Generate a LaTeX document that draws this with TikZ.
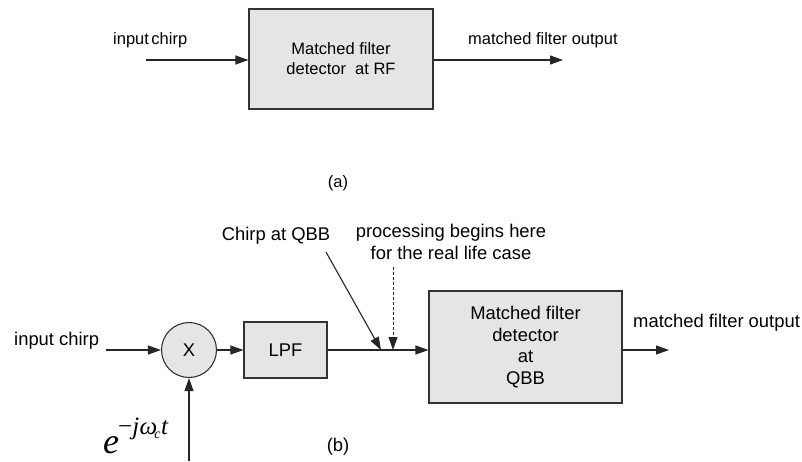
\documentclass[tikz,border=0pt]{standalone}
\usepackage{fontspec}
\setmainfont{Liberation Sans}
\newfontfamily\mathserif{Liberation Serif}
\usetikzlibrary{arrows.meta}
\begin{document}
\begin{tikzpicture}[x=1pt,y=-1pt,
  blk/.style={draw=black!80, fill=gray!20, line width=1.1pt, inner sep=0pt, align=center},
  sig/.style={draw=black!85, line width=1.1pt, -{Triangle[length=13pt,width=9pt]}},
  dsig/.style={sig, line width=0.9pt, dash pattern=on 3pt off 2pt},
  txta/.style={font=\fontsize{16.5}{20}\selectfont, inner sep=0pt},
  txtb/.style={font=\fontsize{18.4}{21.5}\selectfont, inner sep=0pt}]
\useasboundingbox (0,0) rectangle (802,461);

% ---------- (a) matched filter working directly at RF ----------
\node[blk, txta, minimum width=184pt, minimum height=100pt] (rf) at (341,59)
  {Matched filter\\detector\ \ at RF};
\coordinate (ain) at (146,60);
\coordinate (aout) at (563,60);
\draw[sig] (ain) -- (rf.west |- ain);
\draw[sig] (rf.east |- aout) -- (aout);
\node[txta, anchor=west] (ainlbl) at (113,40) {input\hspace{2.5pt}chirp};
\node[txta, anchor=west] (aoutlbl) at (468,40) {matched filter output};
\node[txta] (capa) at (338,183) {(a)};

% ---------- (b) down-conversion to QBB before matched filtering ----------
\node[blk, txtb, circle, minimum size=55pt] (mix) at (189,350) {X};
\node[blk, txtb, minimum width=83pt, minimum height=56pt] (lpf) at (285.5,350) {LPF};
\node[blk, txtb, minimum width=193pt, minimum height=112pt] (mf) at (525.5,347)
  {Matched filter\\detector\\at\\QBB};

\coordinate (bin) at (106,350);
\coordinate (bout) at (669,350);
\coordinate (lo) at (189,461);
\draw[sig] (bin) -- (mix.west);
\draw[sig] (mix.east) -- (lpf.west);
\draw[sig] (lpf.east) -- (mf.west |- lpf.east);
\draw[sig] (mf.east |- bout) -- (bout);
\draw[sig] (lo) -- (mix.south);

\node[txtb, anchor=west] (binlbl) at (14,341) {input chirp};
\node[txtb, anchor=west] (boutlbl) at (633,323) {matched filter output};

% annotation arrows pointing at the LPF output
\node[txtb] (qbblbl) at (276,236) {Chirp at QBB};
\node[txtb, align=center] (reallbl) at (451,242) {processing begins here\\for the real life case};
\coordinate (cq0) at (326,252);
\coordinate (cq1) at (381,350);
\coordinate (rl0) at (393,267);
\coordinate (rl1) at (393,350);
\draw[sig] (cq0) -- (cq1);
\draw[dsig] (rl0) -- (rl1);

% local oscillator term
\node[anchor=base west, inner sep=0pt] (osc) at (103,453)
  {\mathserif{\itshape\fontsize{36}{36}\selectfont e}\kern-1pt\raisebox{19pt}{\mathserif\fontsize{25}{25}\selectfont −\itshape j\kern0.5pt ω\kern-3pt\raisebox{-4pt}{\fontsize{14}{14}\selectfont c}\kern0.5pt t}};

\node[txtb] (capb) at (338,447) {(b)};
\end{tikzpicture}
\end{document}
